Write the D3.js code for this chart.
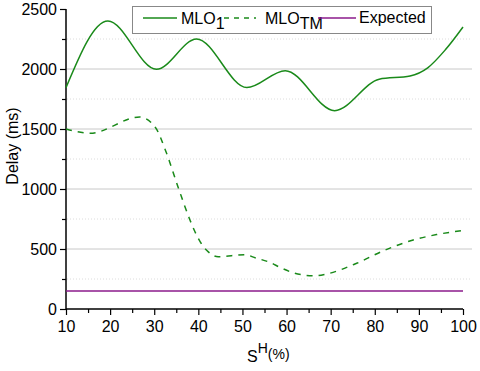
<!DOCTYPE html>
<html>
<head>
<meta charset="utf-8">
<script src="https://cdn.jsdelivr.net/npm/d3@7"></script>
<style>
  body { margin: 0; background: #fff; }
  text { font-family: "Liberation Sans", Arial, sans-serif; fill: #000; }
</style>
</head>
<body>
<script>
// data
var xTicks = [10, 20, 30, 40, 50, 60, 70, 80, 90, 100];
var yTicks = [0, 500, 1000, 1500, 2000, 2500];

var mlo1X = [10, 19.5, 30.5, 39.6, 51, 59.7, 70.9, 81, 88, 92, 96, 100];
var mlo1Y = [1845, 2400, 1997, 2250, 1845, 1986, 1653, 1915, 1942, 2010, 2160, 2350];

var mloTmX = [10, 15.5, 26.7, 30.2, 32.6, 35.5, 38.1, 40.4, 42, 44.5, 50.5, 53, 56, 58.8, 61.7, 66.3, 69.1, 75.9, 82, 88.7, 94, 100];
var mloTmY = [1500, 1465, 1600, 1517, 1317, 1006, 742, 561, 485, 436, 453, 425, 392, 342, 300, 276, 292, 381, 486, 575, 620, 655];

var expX = [10, 100];
var expY = [150, 150];

var W = 480, H = 371;
var svg = d3.select("body").append("svg").attr("width", W).attr("height", H);

var x = d3.scaleLinear().domain([10, 100]).range([66, 463]);
var y = d3.scaleLinear().domain([0, 2500]).range([309, 9]);

var green = "#1a8a1a", purple = "#8b1a8b";

// grid
var grid = svg.append("g");
d3.range(250, 2500, 250).forEach(function (v) {
  var major = v % 500 === 0;
  grid.append("line")
    .attr("x1", 67).attr("x2", 472)
    .attr("y1", y(v)).attr("y2", y(v))
    .attr("stroke", major ? "#c8c8c8" : "#dcdcdc")
    .attr("stroke-width", 1)
    .attr("stroke-dasharray", major ? null : "1,2");
});

// axes
var xAxis = d3.axisBottom(x).tickValues(xTicks).tickSize(6).tickPadding(5).tickFormat(d3.format("d"));
var gx = svg.append("g").attr("transform", "translate(0,309)").call(xAxis);
var xMinor = d3.axisBottom(x).tickValues(d3.range(15, 100, 10)).tickSize(4).tickFormat("");
svg.append("g").attr("transform", "translate(0,309)").call(xMinor).select(".domain").remove();

var yAxis = d3.axisLeft(y).tickValues(yTicks).tickSize(6).tickPadding(3).tickFormat(d3.format("d"));
var gy = svg.append("g").attr("transform", "translate(66,0)").call(yAxis);
var yMinor = d3.axisLeft(y).tickValues(d3.range(250, 2500, 500)).tickSize(4).tickFormat("");
svg.append("g").attr("transform", "translate(66,0)").call(yMinor).select(".domain").remove();

svg.selectAll(".domain").attr("stroke", "#000").attr("stroke-width", 1.5);
svg.selectAll(".tick line").attr("stroke", "#000").attr("stroke-width", 1.2);
gx.select(".domain").attr("d", "M66,0H463");
gy.select(".domain").attr("d", "M0,309V9");
gx.selectAll("text").attr("font-size", 16).attr("dy", "0.75em");
gy.selectAll("text").attr("font-size", 16);

// lines
var line = d3.line().x(function (d) { return x(d[0]); }).y(function (d) { return y(d[1]); })
  .curve(d3.curveMonotoneX);

svg.append("path").datum(d3.zip(expX, expY)).attr("d", line)
  .attr("fill", "none").attr("stroke", purple).attr("stroke-width", 1.3);
svg.append("path").datum(d3.zip(mloTmX, mloTmY)).attr("d", line)
  .attr("fill", "none").attr("stroke", green).attr("stroke-width", 1.5).attr("stroke-dasharray", "6,6");
svg.append("path").datum(d3.zip(mlo1X, mlo1Y)).attr("d", line)
  .attr("fill", "none").attr("stroke", green).attr("stroke-width", 1.5);

// axis titles
svg.append("text").attr("transform", "translate(18,146) rotate(-90)")
  .attr("text-anchor", "middle").attr("font-size", 16).text("Delay (ms)");

var xt = svg.append("text").attr("x", 247).attr("y", 362).attr("font-size", 16);
xt.append("tspan").text("S");
xt.append("tspan").attr("font-size", 14).attr("dy", -9).text("H");
xt.append("tspan").attr("font-size", 14).attr("dy", 6).text("(%)");

// legend
var lg = svg.append("g");
lg.append("rect").attr("x", 132.5).attr("y", 6.5).attr("width", 299).attr("height", 27)
  .attr("fill", "#fff").attr("stroke", "#888").attr("stroke-width", 1);

lg.append("line").attr("x1", 143).attr("x2", 177).attr("y1", 18).attr("y2", 18)
  .attr("stroke", green).attr("stroke-width", 1.5);
var t1 = lg.append("text").attr("x", 181).attr("y", 24).attr("font-size", 16);
t1.append("tspan").text("MLO");
t1.append("tspan").attr("dy", 5).text("1");

lg.append("line").attr("x1", 224).attr("x2", 256).attr("y1", 18).attr("y2", 18)
  .attr("stroke", green).attr("stroke-width", 1.5).attr("stroke-dasharray", "5,5");
var t2 = lg.append("text").attr("x", 265).attr("y", 24).attr("font-size", 16);
t2.append("tspan").text("MLO");
t2.append("tspan").attr("dy", 5).text("TM");

lg.append("line").attr("x1", 318).attr("x2", 356).attr("y1", 18).attr("y2", 18)
  .attr("stroke", purple).attr("stroke-width", 1.3);
lg.append("text").attr("x", 359).attr("y", 23).attr("font-size", 16).text("Expected");
</script>
</body>
</html>
